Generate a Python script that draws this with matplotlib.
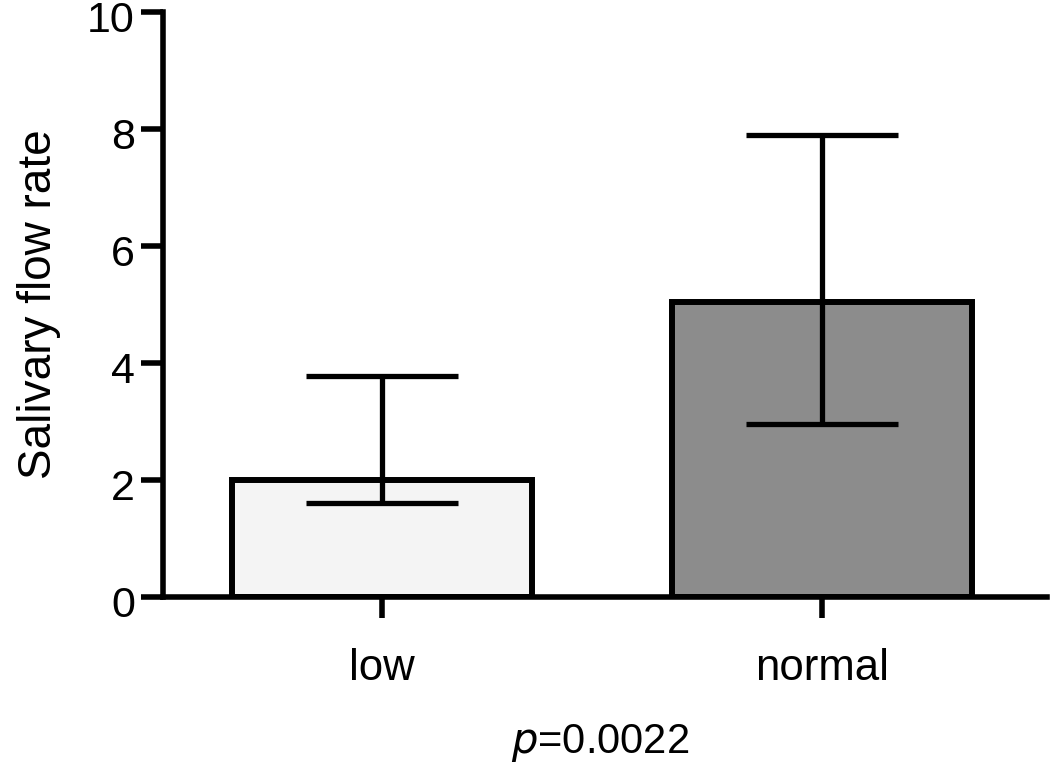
import matplotlib.pyplot as plt
import matplotlib.transforms as mtransforms
import numpy as np

plt.rcParams['font.family'] = ['Liberation Sans', 'DejaVu Sans']

groups = ['low', 'normal']
means = [2.0, 5.05]
err_low = [1.6, 2.95]
err_high = [3.78, 7.9]
colors = ['#f4f4f4', '#8c8c8c']

x = np.arange(len(groups))
lower = [m - l for m, l in zip(means, err_low)]
upper = [h - m for m, h in zip(means, err_high)]

fig = plt.figure(figsize=(10.5, 7.63), dpi=100)
ax = fig.add_axes([0.155, 0.2176, 0.842, 0.7666])

ax.bar(x, means, width=0.68, color=colors, edgecolor='black', linewidth=4.3, zorder=2)
ax.errorbar(x, means, yerr=[lower, upper], fmt='none', ecolor='black',
            elinewidth=3.8, capsize=55, capthick=3.8, zorder=3)

ax.set_xlim(-0.498, 1.511)
ax.set_ylim(0, 10)
ax.set_yticks([0, 2, 4, 6, 8, 10])
ax.set_xticks(x)
ax.set_xticklabels(groups)

for s in ['top', 'right']:
    ax.spines[s].set_visible(False)
for s in ['left', 'bottom']:
    ax.spines[s].set_linewidth(4)
ax.spines['left'].set_zorder(4)

ax.tick_params(axis='y', direction='out', length=16, width=4, labelsize=31, pad=4)
ax.tick_params(axis='x', direction='out', length=15, width=4, labelsize=31.5, pad=22)

# nudge y tick labels down a little so "10" sits inside the figure
shift = mtransforms.ScaledTranslation(0, -3 / 72, fig.dpi_scale_trans)
for lab in ax.get_yticklabels():
    lab.set_transform(lab.get_transform() + shift)

ax.set_ylabel('Salivary flow rate', fontsize=33, labelpad=19)

# p-value under the axis
fig.text(600 / 1050, 10 / 763, '$\\it{p}$=0.0022', fontsize=30,
         ha='center', va='baseline')

fig.savefig('out.png', dpi=100)
